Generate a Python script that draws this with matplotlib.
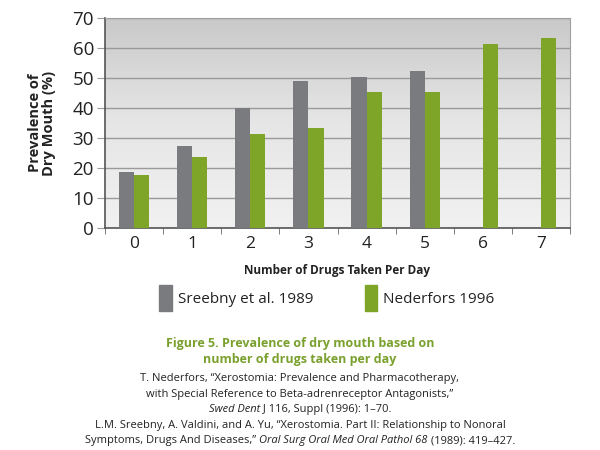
import numpy as np
import matplotlib
matplotlib.use("Agg")
import matplotlib.pyplot as plt
from matplotlib.patches import Patch

plt.rcParams['font.family'] = ['Open Sans', 'DejaVu Sans']

drugs = [0, 1, 2, 3, 4, 5, 6, 7]
sreebny = [18.6, 27.2, 40.0, 49.0, 50.3, 52.2, np.nan, np.nan]
nederfors = [17.8, 23.8, 31.5, 33.3, 45.3, 45.3, 61.5, 63.3]
series_names = ["Sreebny et al. 1989", "Nederfors 1996"]

gray = "#797b7f"
green = "#7ea428"

fig = plt.figure(figsize=(6, 4.5), dpi=100)
ax = fig.add_axes([0.175, 0.493, 0.775, 0.467])

# gradient background
grad = np.linspace(0, 1, 256).reshape(-1, 1)
ax.imshow(grad, extent=[-0.5, 7.5, 0, 70], aspect='auto', origin='upper',
          cmap=matplotlib.colors.LinearSegmentedColormap.from_list(
              "bg", ["#c9c9c9", "#e6e6e6", "#f1f1f1"]), zorder=0)

x = np.arange(len(drugs))
w = 0.26
ax.bar(x - w / 2, sreebny, w, color=gray, zorder=3)
ax.bar(x + w / 2, nederfors, w, color=green, zorder=3)

ax.set_xlim(-0.5, 7.5)
ax.set_ylim(0, 70)
ax.set_yticks(range(0, 71, 10))
ax.yaxis.grid(True, color="#9a9a9a", linewidth=1.0, zorder=1)
ax.set_axisbelow(True)
ax.tick_params(axis='y', length=6, color="#9a9a9a", labelsize=13.5, pad=2,
               labelcolor="#222222")
ax.set_xticks(x)
ax.set_xticklabels([str(d) for d in drugs])
ax.set_xticks(np.arange(-0.5, 8, 1), minor=True)
ax.tick_params(axis='x', which='major', length=0, labelsize=12.5, pad=6, colors="#222222")
ax.tick_params(axis='x', which='minor', length=4, color="#666666")

for s in ['left', 'bottom']:
    ax.spines[s].set_color("#555555")
    ax.spines[s].set_linewidth(1.2)
for s in ['top', 'right']:
    ax.spines[s].set_color("#a0a0a0")

ax.set_ylabel("Prevalence of\nDry Mouth (%)", fontsize=10.5, fontweight='bold',
              labelpad=12, linespacing=0.95, color="#222222")
ax.set_xlabel("Number of Drugs Taken Per Day", fontsize=8.5, fontweight='bold',
              labelpad=8, color="#222222")

handles = [Patch(color=gray), Patch(color=green)]
fig.legend(handles, series_names, loc='center', bbox_to_anchor=(0.545, 0.338),
           ncol=2, frameon=False, fontsize=11, handlelength=0.8, handleheight=2.3,
           columnspacing=3.4, handletextpad=0.4, labelcolor="#222222")

fig.text(0.5, 0.218, "Figure 5. Prevalence of dry mouth based on\nnumber of drugs taken per day",
         ha='center', va='center', color="#7aa02e", fontsize=9, fontweight='bold',
         linespacing=1.3)


def mixed_line(y, parts, size=8.0):
    # parts: list of (text, style); drawn centered as one line
    fig.canvas.draw()
    r = fig.canvas.get_renderer()
    objs = []
    for t, st in parts:
        objs.append(fig.text(0, y, t, fontsize=size, style=st, color="#222222", va='center'))
    widths = [o.get_window_extent(r).width for o in objs]
    total = sum(widths)
    start = (fig.bbox.width - total) / 2
    for o, wd in zip(objs, widths):
        o.set_x(start / fig.bbox.width)
        start += wd


mixed_line(0.158, [("T. Nederfors, \u201cXerostomia: Prevalence and Pharmacotherapy,", 'normal')])
mixed_line(0.123, [("with Special Reference to Beta-adrenreceptor Antagonists,\u201d", 'normal')])
mixed_line(0.089, [("Swed Dent", 'italic'), (" J 116, Suppl (1996): 1\u201370.", 'normal')])
mixed_line(0.054, [("L.M. Sreebny, A. Valdini, and A. Yu, \u201cXerostomia. Part II: Relationship to Nonoral", 'normal')])
mixed_line(0.021, [("Symptoms, Drugs And Diseases,\u201d ", 'normal'),
                   ("Oral Surg Oral Med Oral Pathol 68", 'italic'),
                   (" (1989): 419\u2013427.", 'normal')])

fig.savefig("out.png", dpi=100)
